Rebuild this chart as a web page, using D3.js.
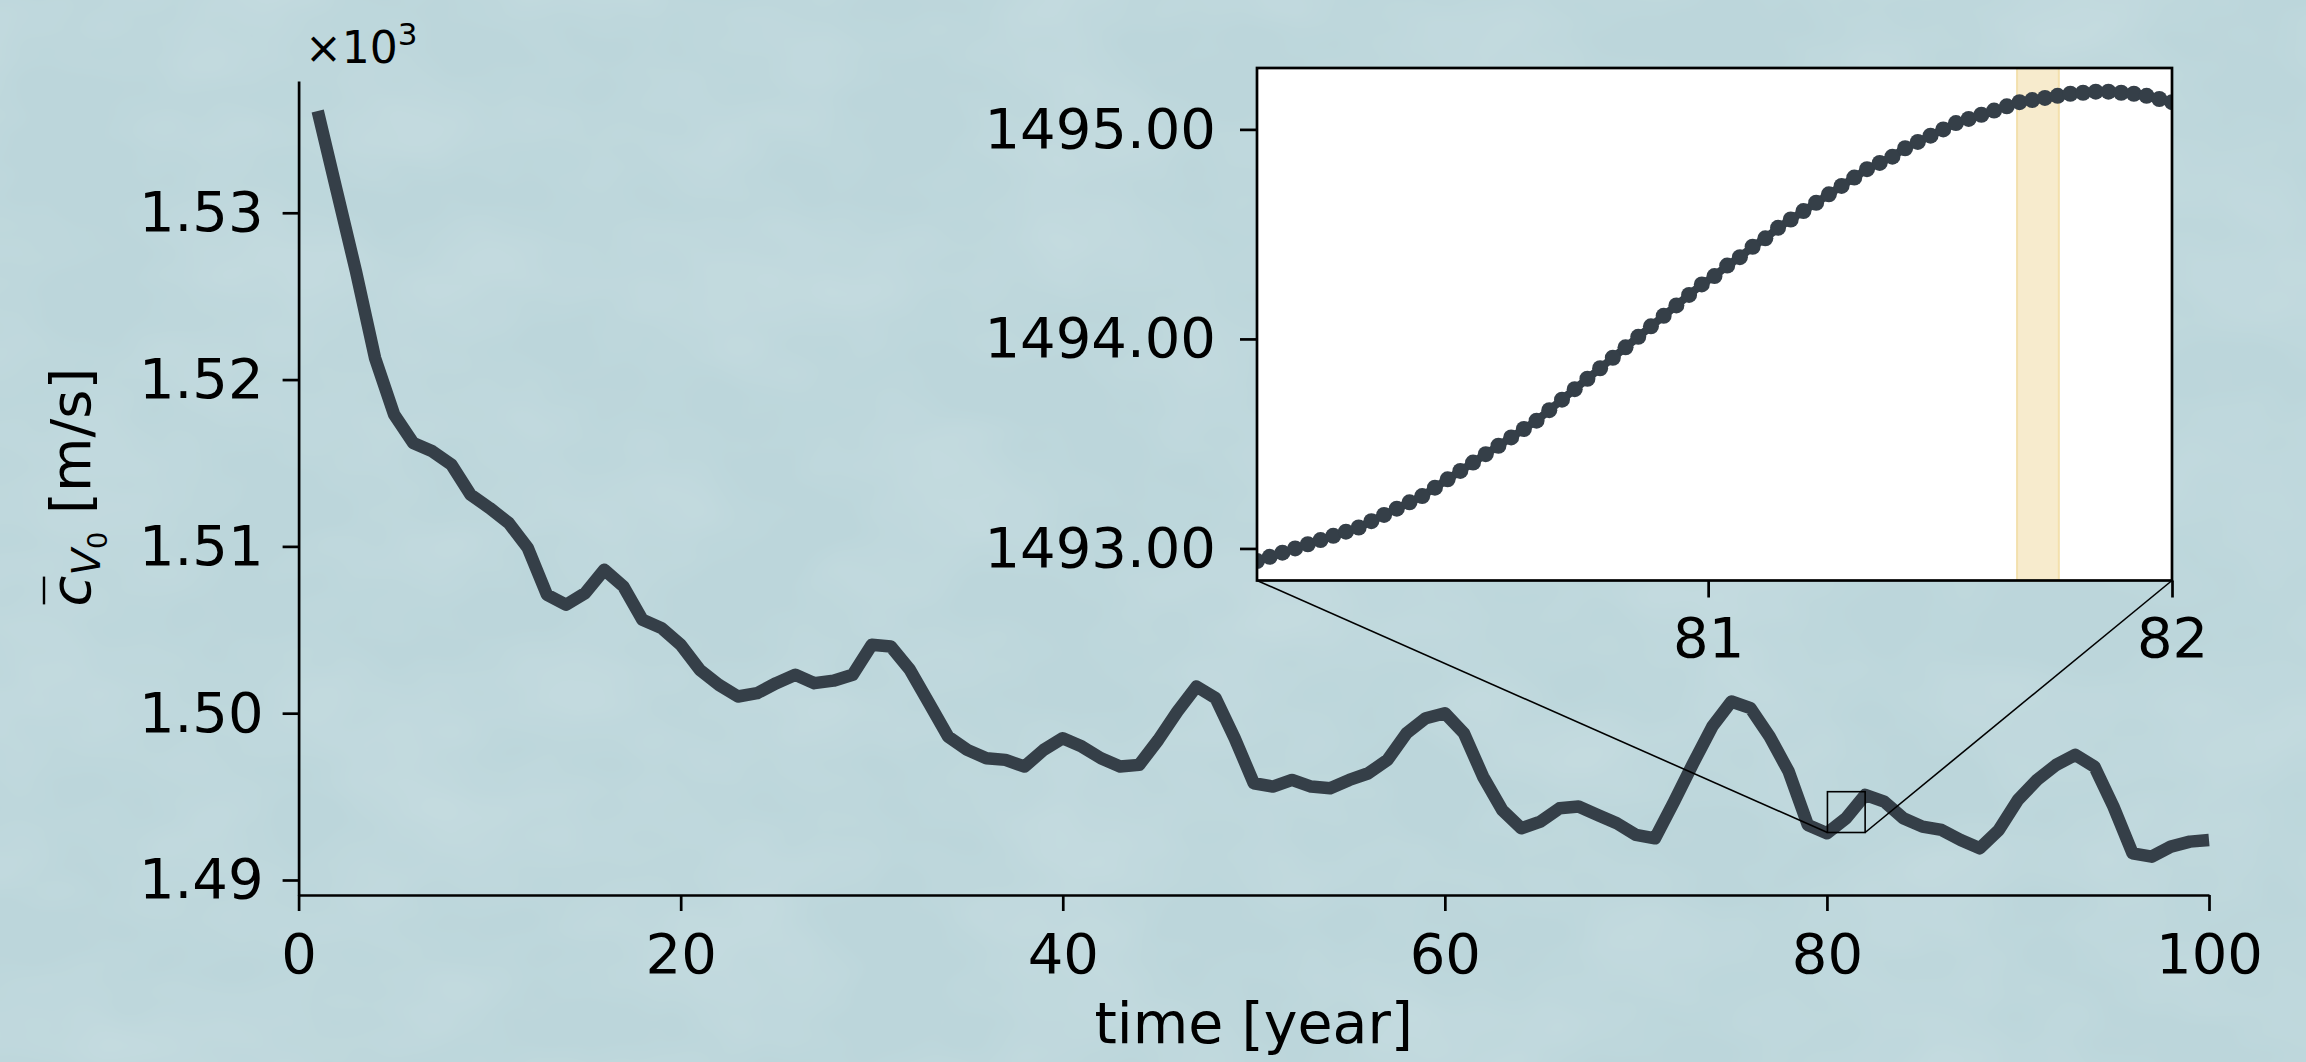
<!DOCTYPE html>
<html>
<head>
<meta charset="utf-8">
<script src="https://cdn.jsdelivr.net/npm/d3@7"></script>
<style>
  html, body { margin: 0; padding: 0; background: #bdd7dc; }
  svg { display: block; }
  text { font-family: "DejaVu Sans", sans-serif; fill: #000; }
</style>
</head>
<body>
<svg id="chart"></svg>
<script>
// yearly mean sound speed (m/s), one value per model year 1..100
const years = d3.range(1, 101)
const speed = [
  1536.1, 1531.3, 1526.5, 1521.3, 1517.9, 1516.2, 1515.7, 1514.9, 1513.1, 1512.3,
  1511.4, 1509.9, 1507.1, 1506.5, 1507.2, 1508.6, 1507.6, 1505.6, 1505.1, 1504.1,
  1502.6, 1501.7, 1501.0, 1501.2, 1501.8, 1502.3, 1501.8, 1501.95, 1502.3, 1504.1,
  1504.0, 1502.6, 1500.6, 1498.6, 1497.8, 1497.3, 1497.2, 1496.8, 1497.8, 1498.5,
  1498.0, 1497.3, 1496.8, 1496.9, 1498.4, 1500.1, 1501.6, 1500.9, 1498.5, 1495.8,
  1495.6, 1496.0, 1495.6, 1495.5, 1496.0, 1496.4, 1497.2, 1498.8, 1499.7, 1500.0,
  1498.8, 1496.2, 1494.2, 1493.1, 1493.5, 1494.3, 1494.4, 1493.9, 1493.4, 1492.7,
  1492.5, 1494.7, 1497.0, 1499.2, 1500.7, 1500.3, 1498.6, 1496.5, 1493.3, 1492.8,
  1493.7, 1495.1, 1494.7, 1493.7, 1493.2, 1493.0, 1492.4, 1491.9, 1493.0, 1494.8,
  1496.0, 1496.9, 1497.5, 1496.8, 1494.4, 1491.6, 1491.4, 1492.0, 1492.3, 1492.4
]

// zoomed window: 10-day samples from year 80 to 82
const insetStep = 10 / 365
const insetTime = d3.range(1, 74).map(k => 80 + k * insetStep)
const insetSpeed = [
  1492.94, 1492.96, 1492.98, 1493.00, 1493.02, 1493.04, 1493.06, 1493.08, 1493.10, 1493.13,
  1493.16, 1493.19, 1493.22, 1493.25, 1493.29, 1493.33, 1493.37, 1493.41, 1493.45, 1493.49,
  1493.53, 1493.57, 1493.61, 1493.66, 1493.71, 1493.76, 1493.81, 1493.86, 1493.91, 1493.96,
  1494.01, 1494.06, 1494.11, 1494.16, 1494.21, 1494.26, 1494.30, 1494.35, 1494.39, 1494.44,
  1494.48, 1494.53, 1494.57, 1494.61, 1494.65, 1494.69, 1494.73, 1494.77, 1494.81, 1494.84,
  1494.87, 1494.91, 1494.94, 1494.97, 1495.00, 1495.03, 1495.05, 1495.07, 1495.09, 1495.11,
  1495.13, 1495.14, 1495.15, 1495.16, 1495.17, 1495.175, 1495.18, 1495.18, 1495.175, 1495.17,
  1495.16, 1495.145, 1495.13
]
const highlight = [81.666, 81.756]

const mainTicksX = [0, 20, 40, 60, 80, 100]
const mainTicksY = [1490, 1500, 1510, 1520, 1530]
const insetTicksX = [81, 82]
const insetTicksY = [1493, 1494, 1495]

const width = 2306
const height = 1062
const ink = "#353f48"
const fs = 56

const svg = d3.select("svg#chart")
  .attr("width", width)
  .attr("height", height)
  .attr("viewBox", `0 0 ${width} ${height}`)

// faint mottled texture over the flat background
const defs = svg.append("defs")
const tex = defs.append("filter").attr("id", "tex")
    .attr("x", 0).attr("y", 0).attr("width", 1).attr("height", 1)
tex.append("feTurbulence")
    .attr("type", "fractalNoise").attr("baseFrequency", "0.006 0.009")
    .attr("numOctaves", 3).attr("seed", 11)
tex.append("feColorMatrix")
    .attr("type", "matrix")
    .attr("values", "0 0 0 0 1  0 0 0 0 1  0 0 0 0 1  0 0 0 0.22 -0.07")
svg.append("rect").attr("width", width).attr("height", height).attr("fill", "#bcd6db")
svg.append("rect").attr("width", width).attr("height", height).attr("filter", "url(#tex)")

const m = {left: 298.6, right: 2209, top: 81, bottom: 895}
const box = {left: 1257, right: 2172, top: 68, bottom: 580.5}

const x = d3.scaleLinear([0, 100], [m.left, m.right])
const y = d3.scaleLinear([1489.1, 1537.9], [m.bottom, m.top])

const xi = d3.scaleLinear([insetTime[0], 82], [box.left, box.right])
const yi = d3.scaleLinear([1492.847, 1495.293], [box.bottom, box.top])

function styleAxis(g, size) {
  g.attr("font-family", "DejaVu Sans").attr("font-size", size)
  g.selectAll("path.domain").attr("stroke", "#000").attr("stroke-width", 2.7)
  g.selectAll(".tick line").attr("stroke", "#000").attr("stroke-width", 2.7)
  g.selectAll(".tick text").attr("fill", "#000")
}

// main axes, left and bottom spines only
svg.append("g")
    .attr("transform", `translate(0,${m.bottom})`)
    .call(d3.axisBottom(x).tickValues(mainTicksX).tickSize(16).tickPadding(22).tickSizeOuter(0))
    .call(g => styleAxis(g, fs))

svg.append("g")
    .attr("transform", `translate(${m.left},0)`)
    .call(d3.axisLeft(y).tickValues(mainTicksY).tickSize(16).tickPadding(19).tickSizeOuter(0)
      .tickFormat(d => (d / 1000).toFixed(2)))
    .call(g => styleAxis(g, fs))

svg.append("text")
    .attr("x", 305).attr("y", 63)
    .attr("font-size", 44)
    .text("×10")
  .append("tspan")
    .attr("font-size", 31).attr("dy", -18)
    .text("3")

svg.append("text")
    .attr("x", (m.left + m.right) / 2).attr("y", 1043)
    .attr("text-anchor", "middle")
    .attr("font-size", 57)
    .text("time [year]")

// y label: overline c with subscript V_0
const yl = svg.append("g").attr("transform", "translate(90,487) rotate(-90)")
const yt = yl.append("text").attr("text-anchor", "middle").attr("font-size", fs)
yt.append("tspan").attr("font-style", "italic").text("c")
yt.append("tspan").attr("font-style", "italic").attr("font-size", 39).attr("dy", 10).text("V")
yt.append("tspan").attr("font-size", 27).attr("dy", 7).text("0")
yt.append("tspan").attr("dy", -17).text(" [m/s]")
const cBox = yt.node().getExtentOfChar(0)
yl.append("line")
    .attr("x1", cBox.x + 2).attr("x2", cBox.x + cBox.width - 1)
    .attr("y1", cBox.y + 6).attr("y2", cBox.y + 6)
    .attr("stroke", "#000").attr("stroke-width", 2.4)

// main series
svg.append("path")
    .datum(years.map((yr, i) => [yr, speed[i]]))
    .attr("fill", "none")
    .attr("stroke", ink)
    .attr("stroke-width", 12.5)
    .attr("stroke-linejoin", "round")
    .attr("d", d3.line(d => x(d[0]), d => y(d[1])))

// zoom frame on the main axes and its connectors to the inset
const x0 = x(insetTime[0]), x1 = x(82)
const y0 = y(1495.293), y1 = y(1492.847)
svg.append("rect")
    .attr("x", x0).attr("y", y0).attr("width", x1 - x0).attr("height", y1 - y0)
    .attr("fill", "none").attr("stroke", "#000").attr("stroke-width", 1.6)
svg.append("line")
    .attr("x1", box.left).attr("y1", box.bottom).attr("x2", x0).attr("y2", y1)
    .attr("stroke", "#000").attr("stroke-width", 1.6)
svg.append("line")
    .attr("x1", box.right).attr("y1", box.bottom).attr("x2", x1).attr("y2", y1)
    .attr("stroke", "#000").attr("stroke-width", 1.6)

// inset
svg.append("rect")
    .attr("x", box.left).attr("y", box.top)
    .attr("width", box.right - box.left).attr("height", box.bottom - box.top)
    .attr("fill", "#fff")

svg.append("rect")
    .attr("x", xi(highlight[0])).attr("y", box.top)
    .attr("width", xi(highlight[1]) - xi(highlight[0])).attr("height", box.bottom - box.top)
    .attr("fill", "#f7ebcd").attr("stroke", "#f3e0ad").attr("stroke-width", 2)

const clip = defs.append("clipPath").attr("id", "inset-clip")
clip.append("rect")
    .attr("x", box.left).attr("y", box.top)
    .attr("width", box.right - box.left).attr("height", box.bottom - box.top)

const gi = svg.append("g").attr("clip-path", "url(#inset-clip)")
const insetRows = insetTime.map((t, i) => [t, insetSpeed[i]])
gi.append("path")
    .datum(insetRows)
    .attr("fill", "none")
    .attr("stroke", ink)
    .attr("stroke-width", 8)
    .attr("d", d3.line(d => xi(d[0]), d => yi(d[1])))
gi.selectAll("circle")
  .data(insetRows)
  .join("circle")
    .attr("cx", d => xi(d[0]))
    .attr("cy", d => yi(d[1]))
    .attr("r", 8)
    .attr("fill", ink)

svg.append("g")
    .attr("transform", `translate(0,${box.bottom})`)
    .call(d3.axisBottom(xi).tickValues(insetTicksX).tickSize(17).tickPadding(20).tickSizeOuter(0)
      .tickFormat(d3.format("d")))
    .call(g => styleAxis(g, fs))
    .call(g => g.select(".domain").remove())

svg.append("g")
    .attr("transform", `translate(${box.left},0)`)
    .call(d3.axisLeft(yi).tickValues(insetTicksY).tickSize(17).tickPadding(24).tickSizeOuter(0)
      .tickFormat(d3.format(".2f")))
    .call(g => styleAxis(g, fs))
    .call(g => g.select(".domain").remove())

svg.append("rect")
    .attr("x", box.left).attr("y", box.top)
    .attr("width", box.right - box.left).attr("height", box.bottom - box.top)
    .attr("fill", "none").attr("stroke", "#000").attr("stroke-width", 2.7)
</script>
</body>
</html>
